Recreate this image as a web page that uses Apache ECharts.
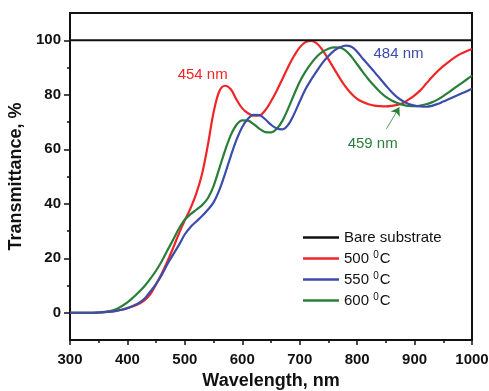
<!DOCTYPE html>
<html>
<head>
<meta charset="utf-8">
<script src="https://cdn.jsdelivr.net/npm/echarts@6/dist/echarts.min.js"></script>
<style>
  html, body { margin: 0; padding: 0; background: #fff; }
  #chart { width: 489px; height: 391px; }
</style>
</head>
<body>
<div id="chart"></div>
<script>
// Wavelength grid (nm)
const wavelength = [
  300, 310, 320, 330, 340, 350, 360, 370, 380, 390,
  400, 410, 420, 430, 440, 450, 460, 470, 480, 490,
  500, 510, 520, 530, 540, 550, 560, 570, 580, 590,
  600, 610, 620, 630, 640, 650, 660, 670, 680, 690,
  700, 710, 720, 730, 740, 750, 760, 770, 780, 790,
  800, 810, 820, 830, 840, 850, 860, 870, 880, 890,
  900, 910, 920, 930, 940, 950, 960, 970, 980, 990,
  1000
];

// Bare substrate transmittance (%)
const bareX = [300, 1000];
const bare = [100, 100];

// Film annealed at 500 °C
const t500 = [
  0, 0, 0, 0, 0, 0.1, 0.2, 0.4, 0.7, 1.1,
  1.7, 2.4, 3.3, 4.6, 6.8, 10.5, 14.5, 19, 24, 29.2,
  34, 38.4, 43.8, 51, 61.5, 73.5, 81.3, 83.3, 82, 78.2,
  75, 73.2, 72.3, 72.4, 74.3, 77.6, 81.5, 85.8, 90.3, 94.2,
  97.4, 99.3, 99.8, 98.8, 96.3, 93, 89.5, 86, 82.9, 80.4,
  78.5, 77.3, 76.5, 76, 75.8, 75.7, 75.9, 76.3, 77, 78.3,
  79.8, 81.6, 84, 86.4, 88.6, 90.5, 92.2, 93.7, 95, 96,
  96.8
];

// Film annealed at 550 °C
const t550 = [
  0, 0, 0, 0, 0, 0.1, 0.2, 0.4, 0.7, 1.1,
  1.7, 2.6, 3.6, 5.2, 7.8, 10.6, 14, 18, 21.5, 25,
  28.8, 31.5, 33.5, 35.5, 37.8, 40.5, 45, 51, 57.5, 63.5,
  68.2, 71.2, 72.6, 72.5, 71, 69, 67.6, 67.3, 69, 72.8,
  77.5, 82, 85.6, 88.8, 91.8, 94.2, 96.2, 97.4, 98, 97.6,
  95.8, 93.2, 90.8, 88.4, 85.9, 83.4, 81, 79, 77.6, 76.6,
  76, 75.7, 75.6, 75.9, 76.6, 77.5, 78.4, 79.4, 80.3, 81.2,
  82.2
];

// Film annealed at 600 °C
const t600 = [
  0, 0, 0, 0, 0, 0.1, 0.3, 0.6, 1.3, 2.4,
  3.8, 5.6, 7.6, 9.8, 12.5, 15.5, 19, 23, 27, 31,
  34.2, 36.2, 37.8, 39.5, 42, 46.5, 53, 59.5, 65.2, 69,
  70.6, 70.5, 69.2, 67.5, 66.3, 66.2, 67.5, 70.5, 75, 80,
  84.8, 88.5, 91.5, 94, 95.8, 96.9, 97.4, 97.3, 96.2, 94,
  91.2, 88.3, 85.6, 83.2, 81, 79.2, 77.9, 77, 76.3, 75.9,
  75.8, 76, 76.5, 77.2, 78.2, 79.5, 81, 82.5, 84, 85.5,
  87
];

// Axis ticks
const yMajorTicks = [0, 20, 40, 60, 80, 100];
const yMinorTicks = [10, 30, 50, 70, 90];

// Peak / valley annotations: text, colour key, anchor in data units
const notes = [
  { text: '454 nm', color: 'red', at: [531, 87.4] },
  { text: '484 nm', color: 'blue', at: [872, 95.0] },
  { text: '459 nm', color: 'green', at: [827, 61.8] }
];
// Pointer from the 459 nm label to the curve
const pointerFrom = [851, 67.5];
const pointerTo = [873.5, 75.4];

const colors = { black: '#111111', red: '#f02526', blue: '#3c4caa', green: '#2a7f38' };
const FONT = '"Liberation Sans", Arial, sans-serif';

const pairs = (xs, ys) => xs.map((x, i) => [x, ys[i]]);

const chart = echarts.init(document.getElementById('chart'), null, { renderer: 'canvas' });

const tempName = n => n === 'Bare substrate' ? n : n + ' {sup|0}C';

const option = {
  animation: false,
  backgroundColor: '#ffffff',
  grid: {
    left: 70, right: 17, top: 13, bottom: 51,
    outerBoundsMode: 'none',
    containLabel: false,
    show: true, borderColor: '#111', borderWidth: 2
  },
  legend: {
    orient: 'vertical',
    left: 298, top: 224,
    itemWidth: 36, itemHeight: 2.5,
    itemGap: 4,
    icon: 'rect',
    selectedMode: false,
    formatter: tempName,
    textStyle: {
      fontFamily: FONT, fontSize: 15, color: '#111', lineHeight: 17,
      rich: {
        sup: { fontFamily: FONT, fontSize: 10, color: '#111', padding: [0, 1, 7, 0] }
      }
    },
    data: ['Bare substrate', '500', '550', '600']
  },
  xAxis: {
    type: 'value',
    min: 300, max: 1000, interval: 100,
    name: 'Wavelength, nm',
    nameLocation: 'middle', nameGap: 32,
    nameTextStyle: { fontFamily: FONT, fontSize: 18, fontWeight: 'bold', color: '#111' },
    axisLine: { onZero: false, lineStyle: { color: '#111', width: 2 } },
    axisTick: { show: true, inside: false, length: 5, lineStyle: { color: '#111', width: 1.5 } },
    minorTick: { show: true, splitNumber: 2, length: 3, lineStyle: { color: '#111', width: 1.5 } },
    axisLabel: {
      fontFamily: FONT, fontSize: 15, fontWeight: 'bold', color: '#111', margin: 12,
      formatter: v => String(v)
    },
    splitLine: { show: false }
  },
  yAxis: [
    {
      type: 'value',
      min: -10, max: 110,
      name: 'Transmittance, %',
      nameLocation: 'middle', nameGap: 40,
      nameTextStyle: { fontFamily: FONT, fontSize: 18, fontWeight: 'bold', color: '#111' },
      axisLine: { onZero: false, lineStyle: { color: '#111', width: 2 } },
      axisTick: { show: true, inside: false, length: 6, customValues: yMajorTicks, lineStyle: { color: '#111', width: 1.5 } },
      axisLabel: { fontFamily: FONT, fontSize: 15, fontWeight: 'bold', color: '#111', margin: 9, customValues: yMajorTicks },
      splitLine: { show: false }
    },
    {
      type: 'value',
      min: -10, max: 110,
      position: 'left',
      axisLine: { show: false },
      axisTick: { show: true, inside: false, length: 3, customValues: yMinorTicks, lineStyle: { color: '#111', width: 1.5 } },
      axisLabel: { show: false, customValues: yMinorTicks },
      splitLine: { show: false }
    }
  ],
  series: [
    {
      name: 'Bare substrate', type: 'line', data: pairs(bareX, bare),
      showSymbol: false, lineStyle: { color: colors.black, width: 2 },
      itemStyle: { color: colors.black }, z: 5
    },
    {
      name: '500', type: 'line', data: pairs(wavelength, t500),
      smooth: 0.35, showSymbol: false, lineStyle: { color: colors.red, width: 2.2 },
      itemStyle: { color: colors.red }, z: 3
    },
    {
      name: '550', type: 'line', data: pairs(wavelength, t550),
      smooth: 0.35, showSymbol: false, lineStyle: { color: colors.blue, width: 2.2 },
      itemStyle: { color: colors.blue }, z: 4
    },
    {
      name: '600', type: 'line', data: pairs(wavelength, t600),
      smooth: 0.35, showSymbol: false, lineStyle: { color: colors.green, width: 2.2 },
      itemStyle: { color: colors.green }, z: 3,
      markLine: {
        silent: true,
        symbol: ['none', 'arrow'],
        symbolSize: 8,
        label: { show: false },
        lineStyle: { color: colors.green, width: 0.8, type: 'solid' },
        data: [[{ coord: pointerFrom }, { coord: pointerTo }]]
      }
    }
  ]
};

chart.setOption(option);

// Place the peak labels from their data anchors
chart.setOption({
  graphic: notes.map(n => {
    const p = chart.convertToPixel({ gridIndex: 0 }, n.at);
    return {
      type: 'text', x: p[0], y: p[1], z: 20,
      style: {
        text: n.text, fill: colors[n.color],
        font: '15px ' + FONT, align: 'center', verticalAlign: 'middle'
      }
    };
  })
});
</script>
</body>
</html>
